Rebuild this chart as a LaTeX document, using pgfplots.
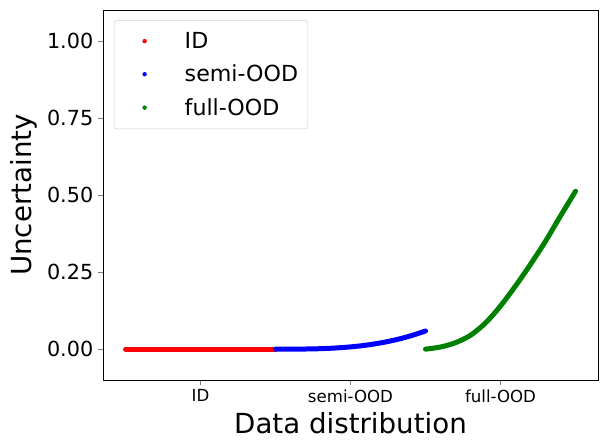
\documentclass[border=0pt]{standalone}
\usepackage{pgfplots}
\pgfplotsset{compat=1.18}
\usepackage{fontspec}
\setmainfont{DejaVu Sans}
\definecolor{mplgreen}{rgb}{0,0.5,0}
\begin{document}
\begin{tikzpicture}
\begin{axis}[
    name=ax,
    scale only axis,
    width=356.4bp, height=266.4bp,
    xmin=-0.65, xmax=2.65,
    ymin=-0.1, ymax=1.1,
    xtick={0,1,2},
    xticklabels={ID,semi-OOD,full-OOD},
    ytick={0,0.25,0.5,0.75,1},
    yticklabel style={/pgf/number format/fixed,/pgf/number format/fixed zerofill,/pgf/number format/precision=2},
    /pgf/number format/assume math mode=true,
    xticklabel style={font=\fontsize{12}{14}\selectfont},
    yticklabel style={font=\fontsize{15}{18}\selectfont},
    xlabel={Data distribution},
    ylabel={Uncertainty},
    label style={font=\fontsize{20}{24}\selectfont},
    xtick pos=left, ytick pos=left,
    tick align=outside,
    major tick length=3.5bp,
    axis line style={line width=0.6pt},
    legend style={at={(0.022,0.973)}, anchor=north west,
        draw=black!18, rounded corners=2pt, fill=white, fill opacity=0.8, text opacity=1,
        font=\fontsize{16}{19}\selectfont, row sep=6.5pt, inner xsep=5pt, inner ysep=6.5pt},
    legend cell align=left,
    legend image code/.code={
        \path[draw=none, fill=none] (0pt,-4pt) rectangle (44pt,4pt);
        \fill[#1, draw=none, fill opacity=1, sharp corners] (17pt,0pt) circle (1.6pt);
    },
]
\addplot[red, line width=3.6bp, line cap=round] coordinates {
    (-0.5,0) (0,0) (0.5,0)
};
\addlegendentry{ID}
\addplot[blue, line width=3.6bp, line cap=round, smooth] coordinates {
    (0.5,0) (0.6,0.0001) (0.7,0.0005) (0.8,0.0016) (0.9,0.0038) (1.0,0.0074)
    (1.1,0.0127) (1.2,0.0202) (1.3,0.0302) (1.4,0.0430) (1.5,0.059)
};
\addlegendentry{semi-OOD}
\addplot[mplgreen, line width=3.6bp, line cap=round, smooth] coordinates {
    (1.5,0) (1.6,0.007) (1.7,0.021) (1.8,0.045) (1.9,0.085) (2.0,0.140)
    (2.1,0.205) (2.2,0.275) (2.3,0.350) (2.4,0.432) (2.5,0.512)
};
\addlegendentry{full-OOD}
\end{axis}
\pgfresetboundingbox
\path (ax.south west) ++(-74.16bp,-48.24bp) coordinate (bl);
\path (ax.north east) ++(7.2bp,7.2bp) coordinate (tr);
\path[use as bounding box] (bl) rectangle (tr);
\end{tikzpicture}
\end{document}
